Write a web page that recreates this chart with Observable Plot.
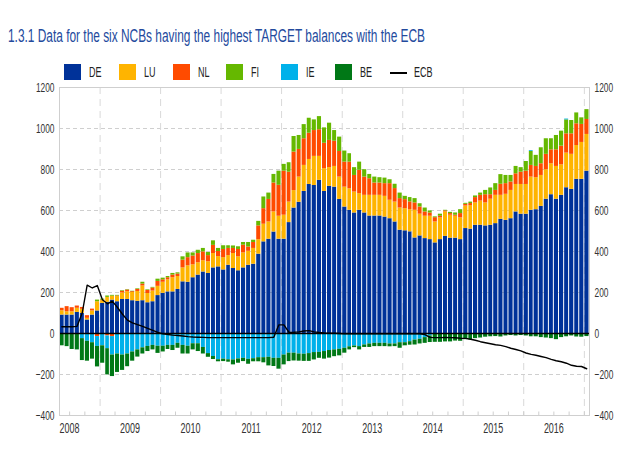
<!DOCTYPE html>
<html><head><meta charset="utf-8">
<script src="https://cdn.jsdelivr.net/npm/d3@7"></script>
<script src="https://cdn.jsdelivr.net/npm/@observablehq/plot@0.6"></script>
<style>
body{margin:0;background:#fff;}
#wrap{position:relative;width:629px;height:454px;overflow:hidden;font-family:"Liberation Sans",Arial,sans-serif;}
#title{position:absolute;left:8px;top:26px;font-size:17.5px;line-height:20px;color:#234a9d;white-space:nowrap;display:inline-block;transform-origin:0 0;}
.sw{position:absolute;top:64px;width:17px;height:17px;}
.ln{position:absolute;top:72px;width:17px;height:2px;background:#000;}
.lt{position:absolute;top:64px;font-size:14.5px;line-height:17px;color:#222;display:inline-block;transform:scaleX(0.62);transform-origin:0 0;white-space:nowrap;}
#chart{position:absolute;left:0;top:80px;}
</style>
</head><body>
<div id="wrap">
<div id="title">1.3.1 Data for the six NCBs having the highest TARGET balances with the ECB</div>
<div id="legend"></div>
<div id="chart"></div>
</div>
<script>
// monthly, May 2008 .. Jan 2017 (EUR billions)
const seriesNames = ["DE","LU","NL","FI","IE","BE"];
const seriesColors = ["#003299","#ffb400","#ff4b00","#65b800","#00b1ea","#007816"];
const yTicks = [-400,-200,0,200,400,600,800,1000,1200];
const yearLabels = [2008,2009,2010,2011,2012,2013,2014,2015,2016];

const DE = [90,90,90,103,98,66,90,110,
 147,152,163,155,166,166,160,157,160,150,155,185,
 196,203,203,215,252,250,272,285,300,293,320,325,
 310,333,317,306,320,333,338,387,447,460,495,460,
 460,541,612,640,693,727,722,747,693,718,714,654,
 617,601,588,601,588,573,573,573,568,560,544,504,
 501,496,466,476,463,458,442,458,474,465,465,458,
 512,509,528,528,525,528,536,557,552,560,593,582,
 582,601,604,620,655,677,655,674,711,703,752,752,792];
const LU = [21,16,16,20,20,8,20,45,
 13,24,19,25,32,38,40,48,72,45,52,45,
 54,59,69,63,68,80,63,60,55,57,70,50,
 60,47,73,68,73,68,77,71,86,84,98,112,
 117,100,85,123,127,122,142,117,111,91,101,109,
 97,105,102,81,86,101,101,101,101,90,97,108,
 108,108,135,106,109,114,102,106,119,112,107,106,
 110,115,109,118,112,127,138,117,127,138,134,145,
 145,162,156,151,144,151,160,149,169,171,165,180,179];
const NL = [12,25,20,11,9,13,9,-15,
 3,-12,-15,3,8,8,4,10,9,15,15,24,
 12,10,13,12,38,40,43,45,43,30,40,25,
 40,35,25,36,38,21,29,67,76,110,141,151,
 215,146,188,135,130,128,126,130,124,133,123,125,
 122,130,81,114,89,81,60,60,62,81,66,46,
 44,38,36,35,21,16,21,8,5,8,5,21,
 8,10,26,28,40,22,24,54,52,41,52,60,
 65,57,55,57,75,68,81,91,94,100,106,88,73];
const FI = [0,0,0,0,0,0,0,8,
 5,7,4,3,3,2,2,3,9,3,3,11,
 8,6,8,6,16,23,15,16,17,15,22,15,
 18,13,12,13,13,22,11,22,57,31,42,69,
 33,46,76,68,69,73,52,64,75,84,52,70,
 54,41,38,40,36,21,29,26,27,19,21,27,
 16,21,21,16,19,10,4,10,3,6,11,19,
 5,7,8,11,21,33,33,47,40,32,36,22,
 47,68,54,78,76,54,70,73,68,65,53,32,48];
const IE = [0,0,-5,-5,-25,-38,-45,-48,
 -60,-62,-90,-100,-105,-100,-90,-80,-70,-63,-58,-62,
 -62,-58,-58,-48,-58,-62,-50,-50,-68,-98,-112,-128,
 -125,-128,-129,-124,-121,-126,-123,-118,-118,-116,-121,-121,
 -105,-96,-96,-100,-101,-98,-93,-92,-88,-83,-80,-77,
 -72,-65,-61,-64,-56,-51,-48,-48,-48,-51,-51,-45,
 -45,-40,-32,-28,-20,-12,-3,-3,-3,-3,-2,-2,
 0,0,0,0,0,0,0,-3,0,0,0,0,
 0,4,0,0,0,0,0,0,4,0,-2,0,0];
const BE = [-60,-64,-73,-75,-107,-97,-80,-100,
 -85,-128,-105,-90,-75,-62,-45,-35,-30,-25,-22,-35,
 -28,-20,-25,-24,-42,-38,-30,-38,-32,-18,-15,-10,
 -12,-12,-24,-21,-16,-24,-15,-20,-25,-42,-40,-53,
 -48,-41,-38,-35,-35,-38,-36,-29,-37,-37,-33,-32,
 -24,-15,-8,-16,-12,-17,-16,-16,-16,-14,-13,-27,
 -15,-17,-24,-23,-28,-32,-40,-40,-38,-38,-35,-36,
 -30,-32,-25,-22,-18,-16,-15,-14,-12,-10,-12,-10,
 -12,-16,-16,-20,-22,-25,-30,-20,-16,-12,-15,-18,-15];
const ECB = [33,33,33,35,100,236,222,234,
 165,145,158,128,95,65,52,43,35,25,15,5,
 -2,-5,-8,-10,-12,-15,-17,-18,-19,-20,-20,-20,
 -20,-20,-20,-20,-20,-20,-20,-20,-20,-20,-18,42,
 42,5,6,8,12,14,8,5,3,2,1,0,
 -2,-2,-2,-2,-2,-2,-2,-2,-2,-2,-2,-2,
 -2,-2,-2,-2,-5,-19,-20,-20,-19,-20,-21,-23,
 -24,-28,-33,-40,-45,-50,-55,-58,-64,-72,-78,-85,
 -95,-102,-106,-112,-118,-126,-133,-138,-145,-155,-160,-161,-172];

const start = new Date(Date.UTC(2008,4,1));
const end = new Date(Date.UTC(2017,1,1));
const months = d3.utcMonth.range(start, end);
const seriesVals = [DE,LU,NL,FI,IE,BE];
const rows = months.flatMap((m,i) => seriesNames.map((n,k) => ({date:m, next:d3.utcMonth.offset(m,1), name:n, value:seriesVals[k][i]})));
const ecbRows = months.map((m,i) => ({date:d3.utcDay.offset(m,14), value:ECB[i]}));
const yearStarts = d3.utcYear.range(new Date(Date.UTC(2009,0,1)), end);
const quarters = d3.utcMonth.every(3).range(new Date(Date.UTC(2008,6,1)), end);
const julys = yearLabels.map(y => new Date(Date.UTC(y,6,1)));

const font = '"Liberation Sans",Arial,sans-serif';

// title fitted to the reference width
const title = document.getElementById("title");
const tw = title.getBoundingClientRect().width;
title.style.transform = `scaleX(${417 / tw})`;

// legend
const legend = document.getElementById("legend");
const swX = [64,119,173,226,281,335];
seriesNames.forEach((n,k) => {
  const s = document.createElement("div"); s.className="sw"; s.style.left=swX[k]+"px"; s.style.background=seriesColors[k]; legend.appendChild(s);
  const t = document.createElement("div"); t.className="lt"; t.style.left=(swX[k]+25)+"px"; t.textContent=n; legend.appendChild(t);
});
{ const l = document.createElement("div"); l.className="ln"; l.style.left="390px"; legend.appendChild(l);
  const t = document.createElement("div"); t.className="lt"; t.style.left="414px"; t.textContent="ECB"; legend.appendChild(t); }

const chart = Plot.plot({
  width: 629, height: 374,
  marginTop: 7, marginBottom: 39, marginLeft: 59, marginRight: 40,
  style: {fontFamily: font, fontSize: "13.5px", color: "#333", background: "white", overflow: "visible"},
  x: {type: "utc", domain: [start, end]},
  y: {domain: [-400, 1200]},
  color: {domain: seriesNames, range: seriesColors},
  marks: [
    Plot.ruleY(yTicks.filter(v => v !== 0 && v !== -400 && v !== 1200), {stroke: "#cfcfcf", strokeDasharray: "4,3"}),
    Plot.ruleX(yearStarts, {stroke: "#d9d9d9", strokeDasharray: "7,5"}),
    Plot.rectY(rows, {x1: "date", x2: "next", y: "value", fill: "name", insetLeft: 0.5, insetRight: 0.5}),
    Plot.ruleY([0], {stroke: "black", strokeWidth: 1.5}),
    Plot.line(ecbRows, {x: "date", y: "value", stroke: "black", strokeWidth: 1.4}),
    Plot.ruleX(quarters, {y1: -400, y2: -383, stroke: "#cfcfcf"}),
    Plot.frame({stroke: "#cfcfcf"}),
    Plot.axisY(yTicks, {anchor: "left", tickSize: 0, tickPadding: 5, label: null, tickFormat: d3.format("d")}),
    Plot.axisY(yTicks, {anchor: "right", tickSize: 0, tickPadding: 5, label: null, tickFormat: d3.format("d")}),
    Plot.axisX(julys, {tickSize: 0, tickPadding: 7, tickFormat: d3.utcFormat("%Y"), label: null, fontSize: 14.5})
  ]
});
document.getElementById("chart").appendChild(chart);

// horizontally condense the axis labels like the reference
chart.querySelectorAll("text").forEach(t => {
  const bb = t.getBBox();
  const anchor = getComputedStyle(t).textAnchor;
  const ax = anchor === "end" ? bb.x + bb.width : anchor === "middle" ? bb.x + bb.width / 2 : bb.x;
  const tr = t.getAttribute("transform") || "";
  t.setAttribute("transform", `${tr} translate(${ax},0) scale(0.62,1) translate(${-ax},0)`);
});
</script>
</body></html>
